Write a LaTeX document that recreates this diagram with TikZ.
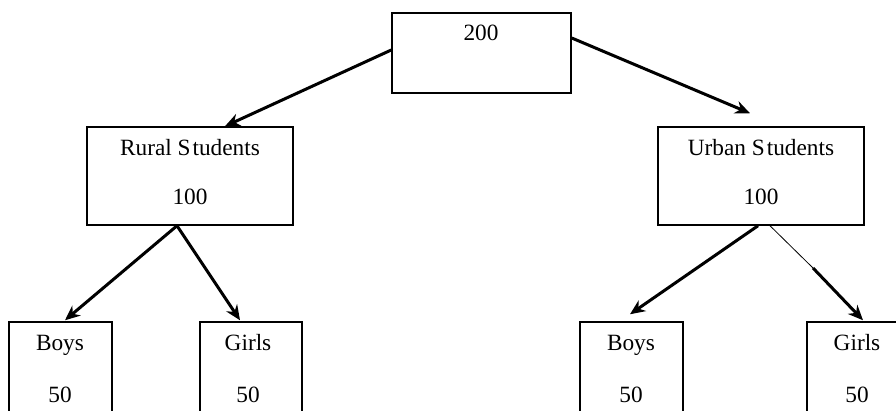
\documentclass[tikz,border=0pt]{standalone}
\usepackage{fontspec}
\setmainfont{Liberation Serif}
\usetikzlibrary{arrows.meta,calc}
\begin{document}
\begin{tikzpicture}[x=1pt,y=-1pt,
  box/.style={draw=black, line width=1.5pt, inner sep=0pt},
  lbl/.style={font=\fontsize{23.3}{27}\selectfont, inner sep=0pt, text height=15.5pt, text depth=0pt},
  arr/.style={line width=3pt, -{Stealth[length=15pt,width=13pt]}},
  thinline/.style={line width=0.8pt}]
\useasboundingbox (0,0) rectangle (896,410);
\clip (0,0) rectangle (896,410);
% boxes
\node[box, minimum width=179pt, minimum height=80pt] (top) at (481.5,53) {};
\node[box, minimum width=206pt, minimum height=98pt] (rural) at (190,176) {};
\node[box, minimum width=206pt, minimum height=98pt] (urban) at (761,176) {};
\node[box, minimum width=103pt, minimum height=100pt] (boys1) at (60.5,372) {};
\node[box, minimum width=102pt, minimum height=100pt] (girls1) at (251,372) {};
\node[box, minimum width=103pt, minimum height=100pt] (boys2) at (631.5,372) {};
\node[box, minimum width=100pt, minimum height=100pt] (girls2) at (857,372) {};
% texts
\node[lbl] (t200) at (481,33) {200};
\node[lbl] (ruralA) at (190,148) {Rural S\kern2pt tudents};
\node[lbl] (ruralB) at (190,197) {100};
\node[lbl] (urbanA) at (761,148) {Urban S\kern2pt tudents};
\node[lbl] (urbanB) at (761,197) {100};
\node[lbl] (boys1A) at (60,343) {Boys};
\node[lbl] (boys1B) at (60,395) {50};
\node[lbl] (girls1A) at (248,343) {Girls};
\node[lbl] (girls1B) at (248,395) {50};
\node[lbl] (boys2A) at (631,343) {Boys};
\node[lbl] (boys2B) at (631,395) {50};
\node[lbl] (girls2A) at (857,343) {Girls};
\node[lbl] (girls2B) at (857,395) {50};
% connectors
\draw[arr] ($(top.west)+(0,-3)$) -- ($(rural.north)+(35,0)$);
\draw[arr] ($(top.east)+(0,-15)$) -- ($(urban.north)+(-11,-13)$);
\draw[arr] ($(rural.south)+(-13,0)$) -- ($(boys1.north)+(4.5,-1)$);
\draw[arr] ($(rural.south)+(-13,0)$) -- ($(girls1.north)+(-11,-1)$);
\draw[arr] ($(urban.south)+(-3,0)$) -- ($(boys2.north)+(-1.5,-7)$);
\coordinate (ug) at (813,268);
\draw[thinline] ($(urban.south)+(9,0)$) -- (ug);
\draw[arr] (ug) -- ($(girls2.north)+(6,-1)$);
\end{tikzpicture}
\end{document}
